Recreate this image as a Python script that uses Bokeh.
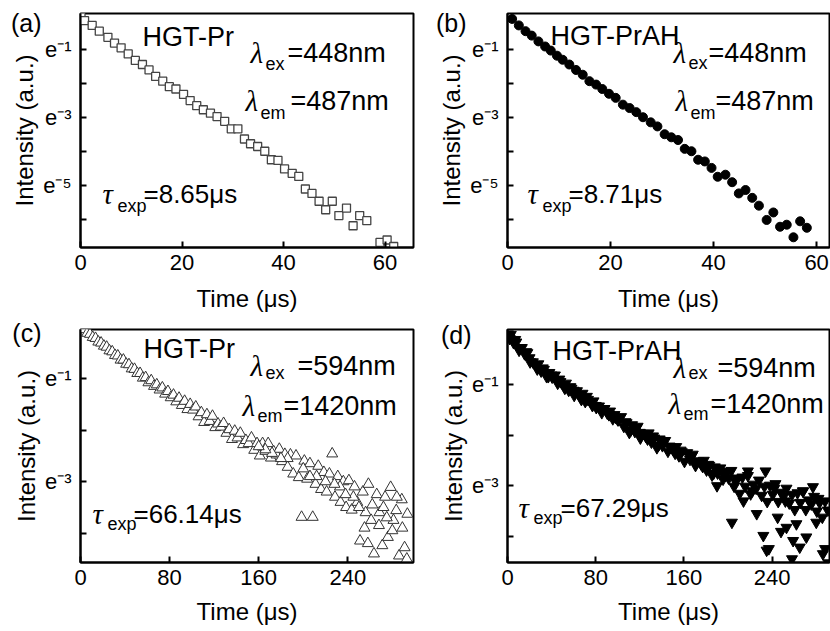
from bokeh.plotting import figure
from bokeh.models import Label, FixedTicker, Range1d, LinearAxis
from bokeh.layouts import column, row
from bokeh.embed import file_html
from bokeh.resources import INLINE

FONT = "Liberation Sans"
SERIF = "Liberation Serif"

# ---------------- data (time in microseconds, natural log of intensity) ----------------
a_time = [0.1, 0.8, 2.3, 3.7, 5.4, 6.7, 8.0, 9.4, 10.8, 12.2, 13.5, 14.8, 16.2, 17.5, 18.8,
          20.3, 21.6, 22.9, 24.2, 25.6, 26.9, 28.4, 29.7, 31.0, 32.3, 33.5, 34.9, 36.3, 37.6,
          38.9, 40.2, 41.7, 43.0, 44.3, 45.6, 47.0, 48.3, 49.6, 50.9, 52.4, 53.7, 55.0, 56.4,
          59.0, 60.4, 61.7]
a_ln = [0.05, -0.15, -0.29, -0.46, -0.64, -0.81, -0.95, -1.13, -1.32, -1.44, -1.60, -1.79,
        -1.93, -2.09, -2.16, -2.32, -2.50, -2.65, -2.77, -2.87, -2.97, -3.11, -3.33, -3.33,
        -3.63, -3.77, -3.85, -3.99, -4.24, -4.26, -4.51, -4.64, -4.73, -5.10, -5.23, -5.46,
        -5.71, -5.46, -5.88, -5.66, -6.18, -5.88, -6.03, -6.67, -6.60, -6.79]

b_time = [0.9, 2.2, 3.5, 4.7, 6.0, 7.3, 8.4, 9.6, 10.7, 12.0, 13.3, 14.6, 15.9, 17.2, 18.4,
          19.7, 21.0, 22.4, 23.7, 25.0, 26.3, 27.8, 29.1, 30.5, 31.8, 33.1, 34.4, 35.7, 37.0,
          38.3, 39.6, 40.8, 42.3, 43.6, 44.9, 46.2, 47.5, 48.8, 50.3, 51.6, 52.9, 54.2, 55.5,
          56.8, 58.1]
b_ln = [-0.10, -0.29, -0.46, -0.59, -0.76, -0.91, -1.03, -1.18, -1.30, -1.44, -1.60, -1.74,
        -1.93, -2.03, -2.16, -2.30, -2.42, -2.62, -2.72, -2.84, -2.99, -3.14, -3.26, -3.49,
        -3.58, -3.66, -3.92, -3.99, -4.24, -4.29, -4.48, -4.74, -4.68, -4.90, -5.23, -5.13,
        -5.36, -5.59, -6.01, -5.79, -6.21, -6.15, -6.52, -6.05, -6.24]

c_time = [1, 3.5, 6, 8.5, 11, 13.5, 16, 18.5, 21, 23.5, 26, 28.5, 31, 33.5, 36, 38.5, 41, 43.5,
          46, 48.5, 51, 53.5, 56, 58.5, 61, 63.5, 66, 68.5, 71, 73.5, 76, 78.5, 81, 83.5, 86,
          88.5, 91, 93.5, 96, 98.5, 101, 103.5, 106, 108.5, 111, 113.5, 116, 118.5, 121, 123.5,
          126, 128.5, 131, 133.5, 136, 138.5, 141, 143.5, 146, 148.5, 151, 153.5, 156, 158.5,
          161, 163.5, 166, 168.5, 171, 173.5, 176, 178.5, 181, 183.5, 186, 188.5, 191, 193.5,
          196, 198.5, 201, 203.5, 206, 208.5, 211, 213.5, 216, 218.5, 221, 223.5, 226, 228.5,
          231, 233.5, 236, 238.5, 241, 243.5, 246, 248.5, 251, 253.5, 256, 258.5, 261, 263.5,
          266, 268.5, 271, 273.5, 276, 278.5, 281, 283.5, 286, 288.5, 291, 293.5,
          245, 250, 255, 262, 268, 272, 280, 284, 289, 293, 258, 275, 233, 238, 228, 220, 212,
          206, 200, 186, 180, 172, 166, 160]
c_ln = [-0.02, -0.05, -0.12, -0.14, -0.20, -0.22, -0.29, -0.31, -0.37, -0.39, -0.46, -0.48,
        -0.55, -0.56, -0.64, -0.64, -0.72, -0.73, -0.81, -0.82, -0.90, -0.90, -0.99,
        -0.98, -1.08, -1.04, -1.15, -1.12, -1.22, -1.18, -1.30, -1.25, -1.37, -1.32, -1.45,
        -1.38, -1.52, -1.44, -1.60, -1.50,
        -1.61, -1.55, -1.74, -1.66, -1.85, -1.70, -1.83, -1.73, -1.95, -1.88, -1.94, -1.87,
        -2.06, -1.99, -2.18, -2.02, -2.15, -2.06, -2.28, -2.20,
        -2.26, -2.15, -2.39, -2.26, -2.50, -2.26, -2.41, -2.26, -2.54, -2.42, -2.48, -2.37,
        -2.61, -2.47, -2.72, -2.48,
        -2.85, -2.50, -2.92, -3.69, -2.60, -2.95, -2.65, -3.69, -3.05, -2.70, -3.15, -2.82,
        -3.20, -2.85, -2.46, -3.30, -2.90, -3.40, -3.00, -3.50,
        -2.98, -3.55, -3.10, -3.40, -4.15, -3.20, -3.60, -3.05, -3.75, -4.40, -3.25, -3.60,
        -4.24, -3.30, -4.08, -3.11, -3.75, -3.56, -4.44, -3.35, -4.28, -3.63,
        -3.30, -3.50, -3.90, -3.45, -3.85, -3.50, -3.95, -3.30, -3.90, -4.50, -4.20, -3.70,
        -3.10, -3.25, -3.05, -3.00, -2.90, -2.90, -2.75, -2.55, -2.55, -2.45, -2.38, -2.32]

d_time = [0.5, 3, 5.5, 8, 10.5, 13, 15.5, 18, 20.5, 23, 25.5, 28, 30.5, 33, 35.5, 38, 40.5, 43,
          45.5, 48, 50.5, 53, 55.5, 58, 60.5, 63, 65.5, 68, 70.5, 73, 75.5, 78, 80.5, 83, 85.5,
          88, 90.5, 93, 95.5, 98, 100.5, 103, 105.5, 108, 110.5, 113, 115.5, 118, 120.5, 123,
          125.5, 128, 130.5, 133, 135.5, 138, 140.5, 143, 145.5, 148, 150.5, 153, 155.5, 158,
          160.5, 163, 165.5, 168, 170.5, 173, 175.5, 178, 180.5, 183, 185.5, 188, 190.5, 193,
          195.5, 198, 200.5, 203, 205.5, 208, 210.5, 213, 215.5, 218, 220.5, 223, 225.5, 228,
          230.5, 233, 235.5, 238, 240.5, 243, 245.5, 248, 250.5, 253, 255.5, 258, 260.5, 263,
          265.5, 268, 270.5, 273, 275.5, 278, 280.5, 283, 285.5, 288, 290.5,
          232, 235, 237, 253, 258, 259, 265, 271, 286, 288, 291, 218, 234, 277, 203.5, 245,
          262, 280, 248, 226, 214, 190, 195, 170, 140, 120, 100, 80, 60, 40, 20, 12,
          2, 7, 17, 27, 32, 37, 47, 52, 57, 67, 72, 77, 87, 92, 97, 107, 112, 117, 127, 132,
          137, 147, 152, 157, 167, 177, 182, 187, 197, 207, 222, 242, 252, 268, 282]
d_ln = [-0.01, -0.02, -0.18, -0.17, -0.33, -0.28, -0.40, -0.38, -0.56, -0.56,
        -0.62, -0.60, -0.74, -0.71, -0.85, -0.77, -0.86, -0.82, -0.98, -0.95,
        -1.01, -0.98, -1.12, -1.08, -1.22, -1.13, -1.23, -1.18, -1.34, -1.30,
        -1.35, -1.33, -1.46, -1.43, -1.56, -1.48, -1.57, -1.53, -1.68, -1.65,
        -1.70, -1.64, -1.83, -1.76, -1.95, -1.80, -1.93, -1.83, -2.06, -1.97,
        -2.03, -1.96, -2.14, -2.06, -2.25, -2.08, -2.21, -2.11, -2.32, -2.24,
        -2.30, -2.23, -2.41, -2.33, -2.52, -2.35, -2.48, -2.38, -2.60, -2.51,
        -2.57, -2.50, -2.69, -2.60, -2.79, -2.63, -2.75, -2.65, -2.87, -2.79,
        -2.85, -2.70, -3.01, -2.85, -3.15, -2.83, -3.01, -2.80, -3.16, -2.97,
        -3.05, -2.89, -3.19, -3.01, -3.31, -2.99, -3.17, -2.96, -3.31, -3.13,
        -3.20, -3.05, -3.34, -3.17, -3.47, -3.14, -3.33, -3.11, -3.47, -3.28,
        -3.36, -3.21, -3.50, -3.33, -3.62, -3.30, -3.48,
        -3.98, -4.27, -4.24, -3.82, -4.44, -4.08, -4.21, -4.01, -4.34, -4.24, -4.52, -2.71,
        -2.71, -3.02, -3.72, -3.62, -3.75, -3.72, -3.90, -3.55, -3.30, -3.00, -2.75, -2.55,
        -2.15, -1.95, -1.70, -1.42, -1.12, -0.82, -0.48, -0.28,
        -0.10, -0.12, -0.36, -0.70, -0.68, -0.85, -0.90, -1.08, -1.05, -1.30, -1.24, -1.42,
        -1.48, -1.60, -1.60, -1.74, -1.90, -1.86, -2.08, -2.02, -2.20, -2.22, -2.36, -2.30,
        -2.42, -2.62, -2.58, -2.75, -2.72, -2.92, -3.10, -3.05, -3.30, -3.10, -3.25]

top_xticks = [0, 20, 40, 60]
bottom_xticks = [0, 80, 160, 240]
top_yticks = [-1, -3, -5]
top_yminor = [-2, -4, -6]
bottom_yticks = [-1, -3]
bottom_yminor = [-2, -4]
SUP = {-1: "\u207b\u00b9", -3: "\u207b\u00b3", -5: "\u207b\u2075"}


def make_fig(w, h, bl, br, bt, bb, xr, yr, xticks, yticks, yminor, lab_standoff,
             letter, letter_y, letter_standoff):
    p = figure(width=w, height=h, output_backend="svg", toolbar_location=None,
               x_range=Range1d(*xr), y_range=Range1d(*yr),
               min_border_left=bl, min_border_right=br, min_border_top=bt,
               min_border_bottom=bb)
    p.xgrid.visible = False
    p.ygrid.visible = False
    p.outline_line_color = "black"
    p.outline_line_width = 2
    p.outline_line_alpha = 1
    p.background_fill_color = "white"
    p.border_fill_color = "white"

    xa = p.xaxis[0]
    xa.ticker = FixedTicker(ticks=xticks)
    xa.axis_line_width = 2
    xa.major_tick_line_width = 2
    xa.major_tick_in = 6
    xa.major_tick_out = 0
    xa.minor_tick_line_color = None
    xa.major_label_text_font = FONT
    xa.major_label_text_font_size = "22px"
    xa.major_label_text_color = "black"
    xa.major_label_standoff = 7
    xa.axis_label = "Time (\u03bcs)"
    xa.axis_label_text_font = FONT
    xa.axis_label_text_font_size = "24px"
    xa.axis_label_text_font_style = "normal"
    xa.axis_label_text_color = "black"
    xa.axis_label_standoff = lab_standoff

    ya = p.yaxis[0]
    ya.ticker = FixedTicker(ticks=yticks, minor_ticks=yminor)
    ya.axis_line_width = 2
    ya.major_tick_line_width = 2
    ya.minor_tick_line_width = 2
    ya.major_tick_in = 6
    ya.major_tick_out = 0
    ya.minor_tick_in = 6
    ya.minor_tick_out = 0
    ya.axis_label = "Intensity (a.u.)"
    ya.axis_label_text_font = FONT
    ya.axis_label_text_font_size = "24px"
    ya.axis_label_text_font_style = "normal"
    ya.axis_label_text_color = "black"
    ya.major_label_overrides = {t: "e" + SUP[t] for t in yticks}
    ya.major_label_text_font = FONT
    ya.major_label_text_font_size = "22px"
    ya.major_label_text_color = "black"
    ya.major_label_standoff = 9
    ya.axis_label_standoff = 2

    # panel letter, shown as the single label of a bare extra axis
    la = LinearAxis(ticker=FixedTicker(ticks=[letter_y], minor_ticks=[]),
                    major_label_overrides={letter_y: letter},
                    axis_line_color=None, major_tick_line_color=None,
                    minor_tick_line_color=None,
                    major_label_text_font=FONT, major_label_text_font_size="25px",
                    major_label_text_color="black",
                    major_label_standoff=letter_standoff)
    p.add_layout(la, "left")
    return p


def txt(p, x, y, text, size, italic=False, font=FONT):
    p.add_layout(Label(x=x, y=y, x_units="screen", y_units="screen", text=text,
                       text_font=font, text_font_size=f"{size}px",
                       text_font_style="italic" if italic else "normal",
                       text_color="black", text_baseline="alphabetic", text_align="left"))


def annotate(p, name, name_pos, ex_pos, ex_txt, em_pos, em_txt, tau_pos, tau_txt):
    txt(p, name_pos[0], name_pos[1], name, 27)
    lx, ly, sx, sy, vx = ex_pos
    txt(p, lx, ly, "\u03bb", 29, italic=True, font=SERIF)
    txt(p, sx, sy, "ex", 18)
    txt(p, vx, ly, ex_txt, 27)
    lx, ly, sx, sy, vx = em_pos
    txt(p, lx, ly, "\u03bb", 29, italic=True, font=SERIF)
    txt(p, sx, sy, "em", 18)
    txt(p, vx, ly, em_txt, 27)
    lx, ly, sx, sy, vx = tau_pos
    txt(p, lx, ly, "\u03c4", 29, italic=True, font=SERIF)
    txt(p, sx, sy, "exp", 18)
    txt(p, vx, ly, tau_txt, 26)


# ---------------- panel (a) ----------------
pa = make_fig(415, 318, 80, 2, 13, 71, (0, 65.6), (-6.82, 0.06), top_xticks, top_yticks,
              top_yminor, 12, "(a)", -0.205, -39)
pa.scatter(a_time, a_ln, marker="square", size=8, fill_color="white",
           line_color="#444444", line_width=1.3)
annotate(pa, "HGT-Pr", (62, 211),
         (170, 195, 185, 184, 207), "=448nm",
         (165, 147, 180, 135, 210), "=487nm",
         (22, 54, 37, 42, 63), "=8.65\u03bcs")

# ---------------- panel (b) ----------------
pb = make_fig(415, 318, 92, 1, 13, 71, (0, 62.5), (-6.82, 0.06), top_xticks, top_yticks,
              top_yminor, 12, "(b)", -0.205, -37)
pb.scatter(b_time, b_ln, marker="circle", size=9, fill_color="black", line_color="black")
annotate(pb, "HGT-PrAH", (43, 212),
         (166, 195, 181, 185, 201), "=448nm",
         (168, 147, 183, 135, 208), "=487nm",
         (20, 54, 35, 42, 61), "=8.71\u03bcs")

# ---------------- panel (c) ----------------
pc = make_fig(415, 313, 80, 2, 11, 69, (0, 299), (-4.57, -0.05), bottom_xticks, bottom_yticks,
              bottom_yminor, 10, "(c)", -0.09, -38)
pc.scatter(c_time, c_ln, marker="triangle", size=11, fill_color="white",
           line_color="#333333", line_width=1)
annotate(pc, "HGT-Pr", (63, 214),
         (170, 197, 185, 190, 217), "=594nm",
         (162, 157, 177, 147, 203), "=1420nm",
         (12, 49, 27, 39, 53), "=66.14\u03bcs")

# ---------------- panel (d) ----------------
pd_ = make_fig(415, 313, 92, 1, 11, 69, (0, 292), (-4.51, 0.08), bottom_xticks, bottom_yticks,
               bottom_yminor, 10, "(d)", -0.02, -41)
pd_.scatter(d_time, d_ln, marker="inverted_triangle", size=11, fill_color="black",
            line_color="black")
annotate(pd_, "HGT-PrAH", (45, 212),
         (166, 195, 181, 190, 210), "=594nm",
         (161, 159, 176, 149, 203), "=1420nm",
         (11, 55, 26, 45, 53), "=67.29\u03bcs")

layout = column(row(pa, pb), row(pc, pd_))
open("out.html", "w").write(file_html(layout, INLINE))
